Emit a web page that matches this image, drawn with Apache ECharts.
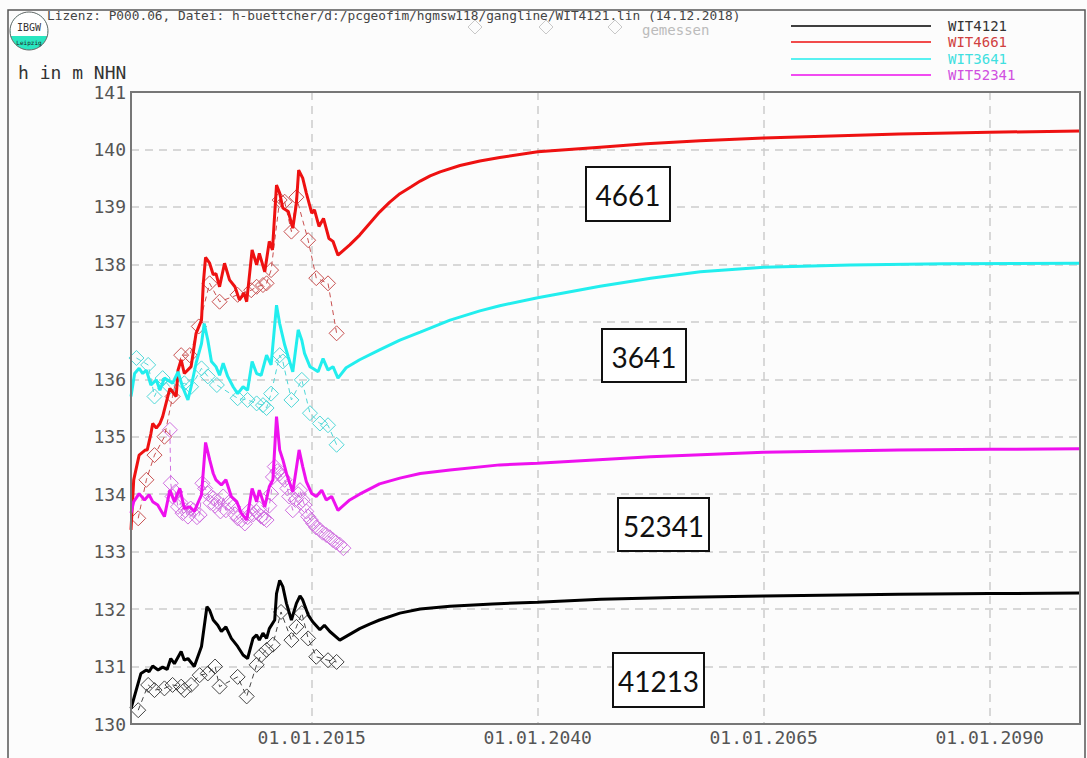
<!DOCTYPE html>
<html>
<head>
<meta charset="utf-8">
<script src="https://cdn.jsdelivr.net/npm/echarts@6/dist/echarts.min.js"></script>
<style>html,body{margin:0;padding:0;background:#fcfcfc;}#chart{width:1087px;height:758px;}</style>
</head>
<body>
<div id="chart"></div>
<script>
// ---- data (decimal year, water level m NHN) ----
const xTickYears = [2015, 2040, 2065, 2090];
const seriesNames = ['WIT4121', 'WIT4661', 'WIT3641', 'WIT52341'];
const boxLabels = ['4661', '3641', '52341', '41213'];

const sim4121 = [[1995.0,130.27],[1996.1,130.88],[1996.7,130.94],[1997.0,130.91],[1997.4,131.01],[1998.0,130.94],[1998.5,130.99],[1999.0,130.95],[1999.4,131.14],[1999.8,131.05],[2000.55,131.26],[2000.9,131.11],[2001.3,131.14],[2002.0,131.0],[2002.8,131.35],[2003.4,132.04],[2003.7,131.98],[2004.1,131.81],[2004.6,131.72],[2005.0,131.61],[2005.5,131.69],[2006.1,131.49],[2006.8,131.35],[2007.4,131.2],[2007.9,131.14],[2008.5,131.49],[2008.9,131.55],[2009.2,131.46],[2009.6,131.58],[2010.0,131.49],[2010.3,131.66],[2010.9,131.81],[2011.1,132.27],[2011.45,132.5],[2011.8,132.39],[2012.2,132.1],[2012.75,131.81],[2013.3,132.1],[2013.7,132.23],[2014.0,132.16],[2014.6,131.9],[2015.1,131.78],[2015.9,131.64],[2016.4,131.72],[2017.0,131.61],[2018.1,131.46],[2019.2,131.56],[2020.3,131.66],[2021.4,131.74],[2022.5,131.81],[2024.75,131.93],[2027,132.0],[2030.3,132.05],[2035,132.09],[2040,132.12],[2047,132.17],[2055,132.2],[2065,132.23],[2080,132.26],[2090,132.27],[2100,132.28]];

const sim4661 = [[1995.0,133.38],[1995.3,134.25],[1995.9,134.68],[1996.6,134.77],[1996.8,134.77],[1997.2,135.05],[1997.4,135.23],[1997.8,135.15],[1998.2,135.23],[1998.5,135.35],[1999.3,135.84],[2000.0,135.7],[2000.2,136.16],[2000.55,136.34],[2000.9,136.1],[2001.65,136.22],[2002.2,136.8],[2002.8,137.03],[2003.0,137.67],[2003.25,138.12],[2003.7,138.02],[2004.1,137.82],[2004.4,137.84],[2004.8,137.61],[2005.35,138.02],[2005.9,137.73],[2006.5,137.61],[2007.0,137.38],[2007.5,137.5],[2007.8,137.35],[2008.4,138.25],[2008.9,137.99],[2009.2,138.19],[2009.8,137.87],[2010.3,138.4],[2010.65,138.25],[2011.1,139.38],[2011.45,139.24],[2011.8,138.98],[2012.4,138.92],[2012.9,138.63],[2013.3,139.06],[2013.55,139.64],[2014.0,139.5],[2014.4,139.24],[2015.0,138.89],[2015.3,138.95],[2015.8,138.66],[2016.3,138.8],[2016.9,138.45],[2017.35,138.4],[2017.9,138.16],[2019.2,138.34],[2020.3,138.51],[2021.4,138.71],[2022.5,138.91],[2023.6,139.08],[2024.75,139.23],[2026,139.35],[2027,139.45],[2028.1,139.54],[2029.2,139.61],[2031.4,139.72],[2033.6,139.8],[2035.8,139.86],[2040,139.96],[2046.9,140.04],[2052,140.1],[2058,140.15],[2065,140.2],[2080,140.27],[2090,140.3],[2100,140.32]];

const sim3641 = [[1995.0,135.7],[1995.4,136.1],[1995.9,136.19],[1996.3,136.1],[1996.7,136.16],[1997.2,135.9],[1997.8,135.99],[1998.2,135.81],[1998.7,136.02],[1999.3,135.96],[1999.6,135.93],[2000.2,136.13],[2000.7,135.87],[2001.3,135.64],[2001.65,135.87],[2002.2,136.28],[2002.8,136.62],[2003.1,136.97],[2003.5,136.68],[2003.9,136.31],[2004.4,136.22],[2004.8,136.07],[2005.2,136.28],[2005.7,136.05],[2006.3,135.87],[2006.8,135.75],[2007.4,135.87],[2007.9,135.81],[2008.4,136.31],[2008.9,136.1],[2009.4,136.07],[2010.0,136.42],[2010.5,136.25],[2011.1,137.29],[2011.45,136.97],[2012.0,136.6],[2012.4,136.39],[2012.9,136.13],[2013.5,136.86],[2013.9,136.68],[2014.2,136.45],[2014.8,136.22],[2015.1,136.19],[2015.7,136.13],[2016.25,136.36],[2016.8,136.16],[2017.35,136.22],[2017.9,136.02],[2018.8,136.2],[2020.3,136.34],[2022.5,136.51],[2024.75,136.68],[2027,136.82],[2030.3,137.03],[2033.6,137.19],[2035.8,137.28],[2040,137.42],[2046.9,137.62],[2052.5,137.76],[2058,137.87],[2065,137.95],[2074.6,137.99],[2085,138.01],[2100,138.02]];

const sim52341 = [[1995.0,133.67],[1995.3,133.87],[1995.9,134.01],[1996.5,133.9],[1997.0,133.99],[1997.4,133.87],[1997.96,133.81],[1998.7,133.61],[1999.3,134.07],[1999.8,133.87],[2000.4,134.1],[2000.9,133.75],[2001.5,133.78],[2002.0,133.7],[2002.8,133.99],[2003.25,134.9],[2003.7,134.6],[2004.1,134.36],[2004.4,134.25],[2005.0,134.16],[2005.5,134.25],[2006.1,133.96],[2006.7,133.87],[2007.2,133.67],[2007.8,133.55],[2008.4,134.1],[2008.9,133.87],[2009.2,134.07],[2009.8,133.78],[2010.3,134.13],[2010.7,134.25],[2011.1,135.35],[2011.45,134.77],[2011.8,134.6],[2012.2,134.36],[2012.9,134.04],[2013.6,134.77],[2014.0,134.48],[2014.4,134.22],[2015.0,134.01],[2015.5,133.96],[2016.1,134.07],[2016.6,133.9],[2017.2,133.96],[2017.9,133.72],[2019.2,133.9],[2020.3,134.0],[2022.5,134.18],[2024.75,134.28],[2027,134.36],[2030.3,134.42],[2035.8,134.51],[2040,134.54],[2052.5,134.65],[2065,134.73],[2080,134.77],[2090,134.78],[2100,134.79]];

const obs4121 = [[1995.8,130.24],[1996.9,130.68],[1997.6,130.59],[1998.7,130.62],[1999.6,130.68],[2000.55,130.65],[2000.9,130.59],[2001.65,130.68],[2002.6,130.85],[2003.5,130.88],[2004.3,131.0],[2004.8,130.65],[2006.8,130.82],[2007.8,130.48],[2008.9,131.03],[2009.4,131.2],[2010.0,131.29],[2010.7,131.38],[2011.6,131.95],[2012.75,131.46],[2013.3,131.69],[2013.9,131.93],[2014.6,131.49],[2015.5,131.17],[2016.8,131.11],[2017.75,131.08]];

const obs4661 = [[1995.8,133.58],[1996.7,134.25],[1997.6,134.68],[1998.7,135.0],[1999.6,135.7],[2000.55,136.42],[2001.5,136.42],[2002.5,136.92],[2003.7,137.67],[2004.8,137.35],[2006.8,137.47],[2008.3,137.55],[2008.9,137.61],[2009.6,137.64],[2010.0,137.67],[2010.5,137.9],[2011.45,139.12],[2012.0,139.09],[2012.75,138.57],[2013.3,139.17],[2014.6,138.42],[2015.5,137.76],[2016.8,137.67],[2017.75,136.8]];

const obs3641 = [[1995.6,136.37],[1996.9,136.25],[1997.6,135.7],[1998.5,136.02],[1999.3,135.87],[2000.9,135.93],[2001.65,135.87],[2002.8,136.19],[2003.5,136.05],[2004.5,135.9],[2006.8,135.67],[2007.9,135.64],[2008.9,135.58],[2009.6,135.55],[2010.0,135.5],[2010.5,135.75],[2011.45,136.42],[2011.8,136.31],[2012.75,135.64],[2013.9,135.99],[2014.8,135.41],[2015.9,135.23],[2016.8,135.2],[2017.75,134.86]];

const obs52341 = [[1999.3,135.12],[1999.4,134.19],[1999.6,133.96],[1999.9,134.04],[2000.2,133.78],[2000.5,133.85],[2000.7,133.67],[2001.0,133.72],[2001.3,133.61],[2001.6,133.75],[2001.9,133.72],[2002.3,133.6],[2002.6,133.64],[2002.9,134.19],[2003.2,134.1],[2003.5,134.01],[2003.8,133.85],[2004.1,133.93],[2004.3,133.8],[2004.6,133.87],[2004.9,133.7],[2005.2,133.96],[2005.5,133.72],[2005.8,133.85],[2006.3,133.78],[2006.5,133.65],[2006.8,133.58],[2007.2,133.55],[2007.6,133.49],[2007.9,133.6],[2008.1,133.72],[2008.5,133.65],[2008.9,133.69],[2009.2,133.75],[2009.4,133.61],[2009.7,133.58],[2010.0,133.55],[2010.3,133.8],[2010.5,134.01],[2010.7,134.3],[2010.9,134.48],[2011.2,134.4],[2011.45,134.36],[2011.7,134.3],[2012.0,134.25],[2012.3,134.1],[2012.5,133.96],[2012.9,133.72],[2013.2,133.9],[2013.5,134.0],[2013.7,134.07],[2014.0,133.9],[2014.2,133.81],[2014.4,133.7],[2014.6,133.61],[2014.9,133.55],[2015.15,133.49],[2015.5,133.42],[2015.9,133.38],[2016.2,133.33],[2016.6,133.29],[2017.0,133.25],[2017.35,133.2],[2017.7,133.16],[2018.1,133.12],[2018.5,133.06]];

// ---- styling ----
const MONO = 'DejaVu Sans Mono';
const simColors = ['#000000', '#ee1111', '#22eeee', '#ee11ee'];
const obsColors = ['#444444', '#c85050', '#50d8d8', '#d070e0'];
const legendTextColors = ['#333333', '#d04040', '#40e0e0', '#d050e0'];

function simSeries(name, data, color) {
  return {
    name: name, type: 'line', data: data, showSymbol: false, symbol: 'none',
    lineStyle: { color: color, width: 3 }, z: 3, animation: false
  };
}
function obsSeries(name, data, color) {
  return {
    name: name + ' gemessen', type: 'line', data: data,
    symbol: 'diamond', symbolSize: 15, showSymbol: true,
    itemStyle: { color: 'rgba(255,255,255,0)', borderColor: color, borderWidth: 1 },
    lineStyle: { color: color, width: 1, type: [5, 4] }, z: 2, animation: false
  };
}

const simData = [sim4121, sim4661, sim3641, sim52341];
const obsData = [obs4121, obs4661, obs3641, obs52341];
const series = [];
for (let i = 0; i < 4; i++) series.push(obsSeries(seriesNames[i], obsData[i], obsColors[i]));
for (let i = 0; i < 4; i++) series.push(simSeries(seriesNames[i], simData[i], simColors[i]));

// graphic: frame, header, logo, legend, annotation boxes
const graphic = [];
graphic.push({ type: 'rect', shape: { x: 8, y: 10, width: 1077, height: 760 }, style: { fill: 'none', stroke: '#555', lineWidth: 1.5 }, silent: true, z: 0 });
graphic.push({ type: 'rect', shape: { x: 131, y: 92, width: 949, height: 632 }, style: { fill: 'none', stroke: '#777', lineWidth: 2 }, silent: true, z: 30 });
graphic.push({ type: 'text', x: 47, y: 15, style: { text: 'Lizenz: P000.06, Datei: h-buettcher/d:/pcgeofim/hgmsw118/gangline/WIT4121.lin (14.12.2018)', font: '12.8px "' + MONO + '"', fill: '#444', verticalAlign: 'middle' }, z: 10 });
// logo
graphic.push({ type: 'circle', shape: { cx: 29, cy: 31, r: 19 }, style: { fill: '#2ae6c0' }, z: 10 });
graphic.push({ type: 'sector', shape: { cx: 29, cy: 31, r: 19, startAngle: Math.PI, endAngle: Math.PI * 2 }, style: { fill: '#ffffff' }, z: 11 });
graphic.push({ type: 'rect', shape: { x: 10.5, y: 30.5, width: 37, height: 5.5 }, style: { fill: '#ffffff' }, z: 11 });
graphic.push({ type: 'circle', shape: { cx: 29, cy: 31, r: 19 }, style: { fill: 'none', stroke: '#666', lineWidth: 1 }, z: 12 });
graphic.push({ type: 'text', x: 29, y: 27, style: { text: 'IBGW', font: '10px "' + MONO + '"', fill: '#333', align: 'center', verticalAlign: 'middle' }, z: 13 });
graphic.push({ type: 'text', x: 29, y: 42, style: { text: 'Leipzig', font: '6px "' + MONO + '"', fill: '#222', align: 'center', verticalAlign: 'middle' }, z: 13 });
// y axis name
graphic.push({ type: 'text', x: 18, y: 72, style: { text: 'h in m NHN', font: '18px "' + MONO + '"', fill: '#333', verticalAlign: 'middle' }, z: 10 });
// "gemessen" legend
[475, 546, 615].forEach(function (cx) {
  graphic.push({ type: 'polygon', shape: { points: [[cx, 20], [cx + 7, 27], [cx, 34], [cx - 7, 27]] }, style: { fill: 'none', stroke: '#c8c8c8', lineWidth: 1 }, z: 9 });
});
graphic.push({ type: 'text', x: 642, y: 30, style: { text: 'gemessen', font: '14px "' + MONO + '"', fill: '#bbbbbb', verticalAlign: 'middle' }, z: 10 });
// series legend
const legendY = [26, 42, 59, 75];
for (let i = 0; i < 4; i++) {
  graphic.push({ type: 'line', shape: { x1: 791, y1: legendY[i], x2: 931, y2: legendY[i] }, style: { stroke: simColors[i], lineWidth: 1.5 }, z: 10 });
  graphic.push({ type: 'text', x: 948, y: legendY[i], style: { text: seriesNames[i], font: '14px "' + MONO + '"', fill: legendTextColors[i], verticalAlign: 'middle' }, z: 10 });
}
// annotation boxes
const boxRects = [[586, 167, 84, 54], [602, 329, 84, 53], [618, 498, 91, 53], [613, 653, 91, 54]];
for (let i = 0; i < 4; i++) {
  const b = boxRects[i];
  graphic.push({ type: 'rect', shape: { x: b[0], y: b[1], width: b[2], height: b[3] }, style: { fill: '#ffffff', stroke: '#111', lineWidth: 2 }, z: 20 });
  graphic.push({ type: 'text', x: b[0] + b[2] / 2, y: b[1] + b[3] / 2 + 1, style: { text: boxLabels[i], font: '28px Lato', fill: '#111', align: 'center', verticalAlign: 'middle' }, z: 21 });
}

const chart = echarts.init(document.getElementById('chart'), null, { renderer: 'svg' });
chart.setOption({
  backgroundColor: '#fcfcfc',
  animation: false,
  grid: { left: 131, top: 92, right: 7, bottom: 34, show: false },
  xAxis: {
    type: 'value', min: 1995, max: 2100,
    axisLine: { lineStyle: { color: '#777', width: 2 } },
    axisTick: { show: false, customValues: xTickYears },
    axisLabel: { customValues: xTickYears, formatter: function (v) { return '01.01.' + v; }, fontFamily: MONO, fontSize: 18, color: '#555', margin: 4 },
    splitLine: { show: true, lineStyle: { color: '#cccccc', width: 1.5, type: [8, 6] } }
  },
  yAxis: {
    type: 'value', min: 130, max: 141, interval: 1,
    axisLine: { show: true, lineStyle: { color: '#777', width: 2 } },
    axisTick: { show: false },
    axisLabel: { fontFamily: MONO, fontSize: 18, color: '#555', margin: 5 },
    splitLine: { show: true, lineStyle: { color: '#cccccc', width: 1.5, type: [8, 6] } }
  },
  series: series,
  graphic: graphic
});
</script>
</body>
</html>
